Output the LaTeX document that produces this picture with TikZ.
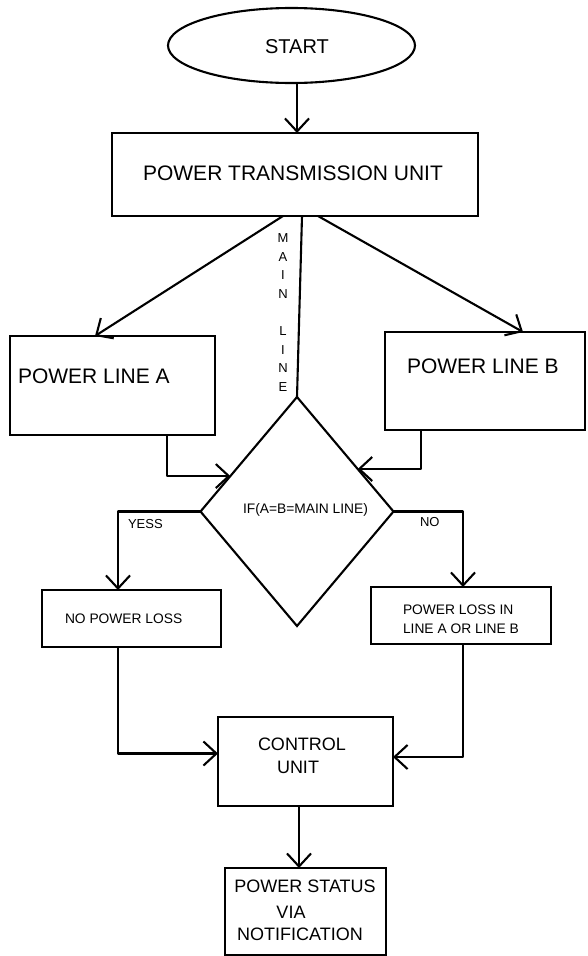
\documentclass[tikz,border=0pt]{standalone}
\usepackage{fontspec}
\setmainfont{Liberation Sans}
\usetikzlibrary{arrows.meta,shapes.geometric,calc}
\newcommand\myfs[1]{\fontsize{#1}{#1}\selectfont}
\begin{document}
\begin{tikzpicture}[x=1pt,y=-1pt,
  line width=2.1pt,
  >={Straight Barb[length=13pt,width=24pt]},
  box/.style={draw,rectangle,inner sep=0pt,outer sep=0pt},
  txt/.style={inner sep=0pt,outer sep=0pt},
  conn/.style={->,line join=round}]
\useasboundingbox (0,0) rectangle (587,956);
% shapes
\node[draw,ellipse,inner sep=0pt,outer sep=0pt,minimum width=247pt,minimum height=75pt] (S) at (291.5,45.5) {};
\node[box,minimum width=366pt,minimum height=83pt] (P) at (295,174.5) {};
\node[box,minimum width=205pt,minimum height=99pt] (A) at (112.5,385.5) {};
\node[box,minimum width=200pt,minimum height=98pt] (B) at (485,381) {};
\node[draw,diamond,inner sep=0pt,outer sep=0pt,minimum width=193pt,minimum height=229pt] (D) at (297,511.5) {};
\node[box,minimum width=179pt,minimum height=57pt] (N) at (131.5,618.5) {};
\node[box,minimum width=180pt,minimum height=57pt] (L) at (461,615.5) {};
\node[box,minimum width=175pt,minimum height=89pt] (C) at (305.5,761.5) {};
\node[box,minimum width=161pt,minimum height=87pt] (T) at (305.5,911.5) {};
% texts
\node[txt,anchor=base,font=\myfs{20}] (tS) at (297,53) {START};
\node[txt,anchor=base,font=\myfs{21}] (tP) at (293,180) {POWER TRANSMISSION UNIT};
\node[txt,anchor=base west,font=\myfs{21}] (tA) at (18,383) {POWER LINE A};
\node[txt,anchor=base west,font=\myfs{21}] (tB) at (407,373) {POWER LINE B};
\node[txt,align=center,font=\fontsize{13}{18.6}\selectfont] (tM) at (283,312.5) {M\\A\\I\\N\\\mbox{}\\L\\I\\N\\E};
\node[txt,anchor=base,font=\myfs{13.8}] (tD) at (305.5,513) {IF(A=B=MAIN LINE)};
\node[txt,anchor=base west,font=\myfs{13}] (tY) at (128,528) {YESS};
\node[txt,anchor=base west,font=\myfs{13}] (tNo) at (420,526) {NO};
\node[txt,anchor=base west,font=\myfs{13.8}] (tN) at (65,623) {NO POWER LOSS};
\node[txt,anchor=base west,font=\myfs{13.8}] (tL1) at (403,614) {POWER LOSS IN};
\node[txt,anchor=base west,font=\myfs{13.8}] (tL2) at (403,633) {LINE A OR LINE B};
\node[txt,anchor=base,font=\myfs{18}] (tC1) at (302,750) {CONTROL};
\node[txt,anchor=base,font=\myfs{18}] (tC2) at (298,773) {UNIT};
\node[txt,anchor=base,font=\myfs{18}] (tT1) at (305,892) {POWER STATUS};
\node[txt,anchor=base,font=\myfs{18}] (tT2) at (291,918) {VIA};
\node[txt,anchor=base,font=\myfs{18}] (tT3) at (300,940) {NOTIFICATION};
% connectors
\draw[conn] ([xshift=5.5pt]S.south) -- ([xshift=5.5pt]S.south |- P.north);
\draw[conn] ([xshift=-12pt]P.south) -- ([xshift=-17.5pt]A.north);
\draw[conn] ([xshift=23pt]P.south) -- ([xshift=38pt]B.north);
\draw ([xshift=7pt]P.south) -- (D.north);
\draw[conn] ([xshift=54.5pt]A.south) |- (D.152);
\draw[conn] ([xshift=-64pt]B.south) |- (D.35);
\draw[conn] (D.west) -| ([xshift=-13.5pt]N.north);
\draw[conn] (D.east) -| ([xshift=2pt]L.north);
\draw[conn] ([xshift=-13.5pt]N.south) |- ([yshift=8pt]C.west);
\draw[conn] ([xshift=2pt]L.south) |- ([yshift=4.5pt]C.east);
\draw[conn] ([xshift=-6.5pt]C.south) -- ([xshift=-6.5pt]T.north);
\end{tikzpicture}
\end{document}
